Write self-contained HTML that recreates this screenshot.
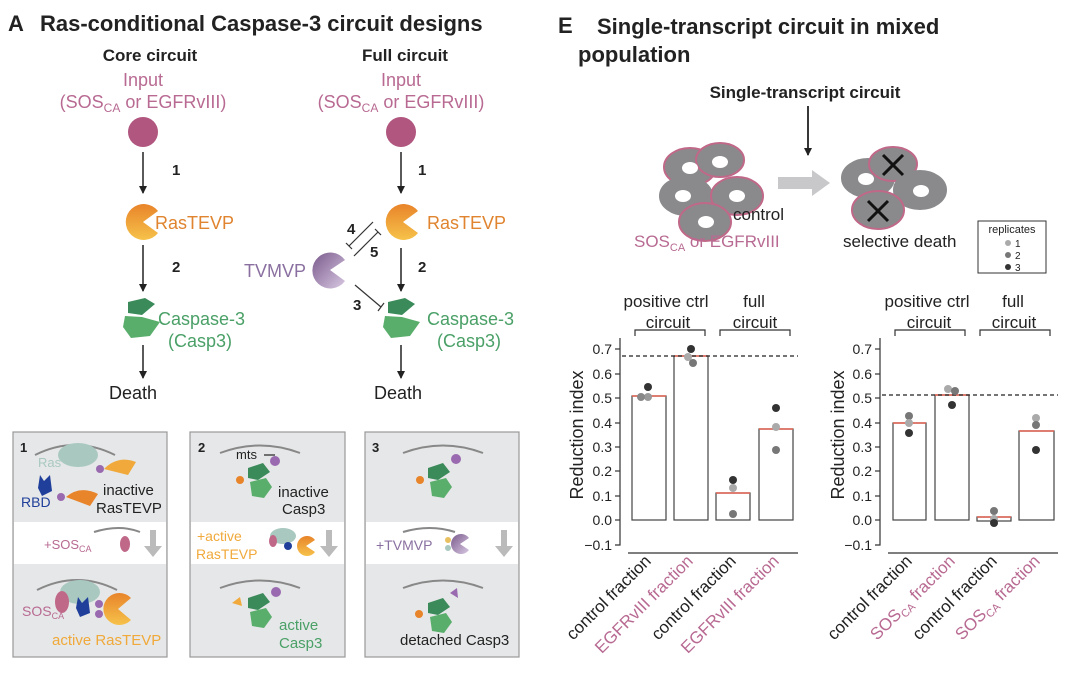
<!DOCTYPE html>
<html><head><meta charset="utf-8"><style>
html,body{margin:0;padding:0;background:#fff}
svg{display:block;font-family:"Liberation Sans",Arial,sans-serif}
</style></head><body>
<svg width="1080" height="681" viewBox="0 0 1080 681" xmlns="http://www.w3.org/2000/svg">
<defs>
<linearGradient id="og" x1="0" y1="0" x2="0" y2="1"><stop offset="0" stop-color="#e8842a"/><stop offset="1" stop-color="#f6c24a"/></linearGradient>
<linearGradient id="pg" x1="0" y1="0" x2="1" y2="1"><stop offset="0" stop-color="#7a5a8c"/><stop offset="1" stop-color="#d8c8e2"/></linearGradient>
<marker id="ah" markerWidth="8" markerHeight="8" refX="7" refY="4" orient="auto" markerUnits="userSpaceOnUse"><path d="M0,0 L8,4 L0,8 Z" fill="#222"/></marker>
</defs>

<text x="8" y="31" font-size="22" font-weight="bold" fill="#222">A</text>
<text x="40" y="31" font-size="22" font-weight="bold" fill="#222">Ras-conditional Caspase-3 circuit designs</text>

<!-- Core circuit -->
<text x="150" y="61" font-size="17" font-weight="bold" text-anchor="middle" fill="#222">Core circuit</text>
<text x="143" y="86" font-size="18" text-anchor="middle" fill="#b86a92">Input</text>
<text x="143" y="108" font-size="18" text-anchor="middle" fill="#b86a92">(SOS<tspan font-size="12" dy="4">CA</tspan><tspan dy="-4"> or EGFRvIII)</tspan></text>
<circle cx="143" cy="132" r="15" fill="#b0567f"/>
<line x1="143" y1="152" x2="143" y2="193" stroke="#222" stroke-width="1.5" marker-end="url(#ah)"/>
<text x="172" y="175" font-size="15" font-weight="bold" fill="#222">1</text>
<path d="M143,222 L158,211 A18,18 0 1 0 158,233 Z" fill="url(#og)"/>
<text x="155" y="229" font-size="18" fill="#e0842f">RasTEVP</text>
<line x1="143" y1="245" x2="143" y2="291" stroke="#222" stroke-width="1.5" marker-end="url(#ah)"/>
<text x="172" y="272" font-size="15" font-weight="bold" fill="#222">2</text>
<path d="M128,302 L145,298 L155,304 L142,315 L128,313 Z" fill="#3a8a5a"/>
<path d="M125,316 L142,317 L160,322 L150,336 L131,338 L123,327 Z" fill="#5aae6c"/>
<text x="158" y="325" font-size="18" fill="#4aa067">Caspase-3</text>
<text x="168" y="347" font-size="18" fill="#4aa067">(Casp3)</text>
<line x1="143" y1="345" x2="143" y2="378" stroke="#222" stroke-width="1.5" marker-end="url(#ah)"/>
<text x="133" y="399" font-size="18" text-anchor="middle" fill="#222">Death</text>

<!-- Full circuit -->
<text x="405" y="61" font-size="17" font-weight="bold" text-anchor="middle" fill="#222">Full circuit</text>
<text x="401" y="86" font-size="18" text-anchor="middle" fill="#b86a92">Input</text>
<text x="401" y="108" font-size="18" text-anchor="middle" fill="#b86a92">(SOS<tspan font-size="12" dy="4">CA</tspan><tspan dy="-4"> or EGFRvIII)</tspan></text>
<circle cx="401" cy="132" r="15" fill="#b0567f"/>
<line x1="401" y1="152" x2="401" y2="193" stroke="#222" stroke-width="1.5" marker-end="url(#ah)"/>
<text x="418" y="175" font-size="15" font-weight="bold" fill="#222">1</text>
<path d="M403,222 L418,211 A18,18 0 1 0 418,233 Z" fill="url(#og)"/>
<text x="427" y="229" font-size="18" fill="#e0842f">RasTEVP</text>
<line x1="401" y1="248" x2="401" y2="291" stroke="#222" stroke-width="1.5" marker-end="url(#ah)"/>
<text x="418" y="272" font-size="15" font-weight="bold" fill="#222">2</text>
<path d="M388,302 L405,298 L415,304 L402,315 L388,313 Z" fill="#3a8a5a"/>
<path d="M385,316 L402,317 L420,322 L410,336 L391,338 L383,327 Z" fill="#5aae6c"/>
<text x="427" y="325" font-size="18" fill="#4aa067">Caspase-3</text>
<text x="437" y="347" font-size="18" fill="#4aa067">(Casp3)</text>
<line x1="401" y1="345" x2="401" y2="378" stroke="#222" stroke-width="1.5" marker-end="url(#ah)"/>
<text x="398" y="399" font-size="18" text-anchor="middle" fill="#222">Death</text>
<path d="M330,270 L345,260 A18,18 0 1 0 345,281 Z" fill="url(#pg)"/>
<text x="244" y="277" font-size="18" fill="#8a70a0">TVMVP</text>
<line x1="373" y1="222" x2="349" y2="246" stroke="#333" stroke-width="1.2"/>
<line x1="346" y1="243" x2="352" y2="249" stroke="#333" stroke-width="1.2"/>
<line x1="354" y1="256" x2="378" y2="232" stroke="#333" stroke-width="1.2"/>
<line x1="375" y1="229" x2="381" y2="235" stroke="#333" stroke-width="1.2"/>
<text x="347" y="234" font-size="15" font-weight="bold" fill="#222">4</text>
<text x="370" y="257" font-size="15" font-weight="bold" fill="#222">5</text>
<line x1="355" y1="285" x2="381" y2="307" stroke="#333" stroke-width="1.2"/>
<line x1="378" y1="311" x2="384" y2="303" stroke="#333" stroke-width="1.2"/>
<text x="353" y="310" font-size="15" font-weight="bold" fill="#222">3</text>

<!-- Bottom boxes -->
<g stroke="#999" stroke-width="1.2">
<rect x="13" y="432" width="154" height="225" fill="#e6e7e8"/>
<rect x="190" y="432" width="155" height="225" fill="#e6e7e8"/>
<rect x="365" y="432" width="154" height="225" fill="#e6e7e8"/>
</g>
<rect x="14" y="522" width="152" height="42" fill="#fff"/>
<rect x="191" y="522" width="153" height="42" fill="#fff"/>
<rect x="366" y="522" width="152" height="42" fill="#fff"/>
<g fill="#bbb"><path d="M150,530 L156,530 L156,546 L162,546 L153,557 L144,546 L150,546 Z"/><path d="M326,530 L332,530 L332,546 L338,546 L329,557 L320,546 L326,546 Z"/><path d="M501,530 L507,530 L507,546 L513,546 L504,557 L495,546 L501,546 Z"/></g>
<g fill="none" stroke="#888" stroke-width="2">
<path d="M35,455 Q75,435 115,455"/><path d="M220,453 Q260,438 300,453"/><path d="M403,453 Q443,438 483,453"/>
<path d="M94,532 Q120,524 140,532"/><path d="M403,532 Q430,524 455,532"/>
<path d="M37,590 Q77,570 117,590"/><path d="M220,588 Q260,573 300,588"/><path d="M403,588 Q443,573 483,588"/>
</g>
<text x="20" y="452" font-size="13" font-weight="bold" fill="#222">1</text>
<text x="198" y="452" font-size="13" font-weight="bold" fill="#222">2</text>
<text x="372" y="452" font-size="13" font-weight="bold" fill="#222">3</text>
<ellipse cx="78" cy="455" rx="20" ry="12" fill="#a9c9c0"/>
<circle cx="100" cy="469" r="4" fill="#9a6ab0"/>
<path d="M104,469 Q118,455 136,462 L128,475 Z" fill="#f0a93a"/>
<text x="38" y="467" font-size="13" fill="#a9c9c0">Ras</text>
<path d="M40,475 L44,481 L50,475 L52,491 L42,496 L38,488 Z" fill="#1f3f9a"/>
<circle cx="61" cy="497" r="4" fill="#9a6ab0"/>
<path d="M66,497 Q80,485 98,494 L90,506 Z" fill="#e8842a"/>
<text x="21" y="507" font-size="14" fill="#1f3f9a">RBD</text>
<text x="103" y="495" font-size="15" fill="#222">inactive</text>
<text x="96" y="513" font-size="15" fill="#222">RasTEVP</text>
<text x="44" y="549" font-size="13" fill="#b86a92">+SOS<tspan font-size="9" dy="3">CA</tspan></text>
<ellipse cx="125" cy="544" rx="5" ry="8" fill="#c06888"/>
<ellipse cx="80" cy="592" rx="20" ry="12" fill="#a9c9c0"/>
<ellipse cx="62" cy="602" rx="7" ry="11" fill="#c06888"/>
<path d="M78,597 L82,603 L88,597 L90,613 L80,617 L76,608 Z" fill="#1f3f9a"/>
<circle cx="99" cy="604" r="4" fill="#9a6ab0"/><circle cx="99" cy="614" r="4" fill="#9a6ab0"/>
<path d="M118,609 L131,598 A16,16 0 1 0 131,620 Z" fill="url(#og)"/>
<text x="22" y="616" font-size="14" fill="#b86a92">SOS<tspan font-size="9" dy="3">CA</tspan></text>
<text x="52" y="645" font-size="15" fill="#f0a93a">active RasTEVP</text>
<text x="236" y="459" font-size="13" fill="#222">mts</text>
<line x1="264" y1="455" x2="275" y2="455" stroke="#222" stroke-width="1.2"/>
<circle cx="275" cy="461" r="5" fill="#9a6ab0"/>
<path d="M248,468 L263,463 L270,472 L258,480 L248,478 Z" fill="#3a8a5a"/>
<path d="M250,482 L266,478 L272,487 L264,498 L252,496 Z" fill="#5aae6c"/>
<circle cx="240" cy="480" r="4" fill="#e8842a"/>
<text x="278" y="497" font-size="15" fill="#222">inactive</text>
<text x="282" y="514" font-size="15" fill="#222">Casp3</text>
<text x="197" y="541" font-size="14" fill="#f0a93a">+active</text>
<text x="196" y="559" font-size="14" fill="#f0a93a">RasTEVP</text>
<ellipse cx="283" cy="536" rx="13" ry="8" fill="#a9c9c0"/><ellipse cx="273" cy="541" rx="4" ry="6" fill="#c06888"/>
<circle cx="288" cy="546" r="4" fill="#1f3f9a"/>
<path d="M306,546 L315,540 A10,10 0 1 0 315,552 Z" fill="url(#og)"/>
<circle cx="276" cy="592" r="5" fill="#9a6ab0"/>
<path d="M248,598 L263,593 L270,602 L258,610 L248,608 Z" fill="#3a8a5a"/>
<path d="M250,612 L266,608 L272,617 L264,628 L252,626 Z" fill="#5aae6c"/>
<path d="M232,603 L240,597 L242,606 Z" fill="#f0a93a"/>
<text x="279" y="630" font-size="15" fill="#4aa067">active</text>
<text x="279" y="648" font-size="15" fill="#4aa067">Casp3</text>
<circle cx="456" cy="459" r="5" fill="#9a6ab0"/>
<path d="M428,468 L443,463 L450,472 L438,480 L428,478 Z" fill="#3a8a5a"/>
<path d="M430,482 L446,478 L452,487 L444,498 L432,496 Z" fill="#5aae6c"/>
<circle cx="420" cy="480" r="4" fill="#e8842a"/>
<text x="376" y="550" font-size="14" fill="#8a70a0">+TVMVP</text>
<path d="M460,544 L469,538 A10,10 0 1 0 469,550 Z" fill="url(#pg)"/>
<circle cx="448" cy="540" r="3" fill="#e8c060"/><circle cx="448" cy="548" r="3" fill="#a9c9c0"/>
<path d="M450,593 L457,588 L458,598 Z" fill="#9a6ab0"/>
<path d="M428,603 L443,598 L450,607 L438,615 L428,613 Z" fill="#3a8a5a"/>
<path d="M430,617 L446,613 L452,622 L444,633 L432,631 Z" fill="#5aae6c"/>
<circle cx="419" cy="614" r="4" fill="#e8842a"/>
<text x="400" y="645" font-size="15" fill="#222">detached Casp3</text>

<!-- Panel E -->
<text x="558" y="33" font-size="22" font-weight="bold" fill="#222">E</text>
<text x="597" y="34" font-size="22" font-weight="bold" fill="#222">Single-transcript circuit in mixed</text>
<text x="578" y="62" font-size="22" font-weight="bold" fill="#222">population</text>
<text x="805" y="98" font-size="17" font-weight="bold" text-anchor="middle" fill="#222">Single-transcript circuit</text>
<line x1="808" y1="106" x2="808" y2="155" stroke="#222" stroke-width="1.8" marker-end="url(#ah)"/>
<g stroke-width="2">
<ellipse cx="690" cy="167" rx="26" ry="19" fill="#8a8a8c" stroke="#c06888"/>
<ellipse cx="720" cy="160" rx="24" ry="17" fill="#8a8a8c" stroke="#c06888"/>
<ellipse cx="686" cy="196" rx="26" ry="19" fill="#8a8a8c" stroke="#8a8a8c"/>
<ellipse cx="737" cy="196" rx="26" ry="19" fill="#8a8a8c" stroke="#c06888"/>
<ellipse cx="705" cy="222" rx="26" ry="19" fill="#8a8a8c" stroke="#c06888"/>
</g>
<g fill="#fff"><ellipse cx="690" cy="168" rx="8" ry="6"/><ellipse cx="720" cy="162" rx="8" ry="6"/><ellipse cx="683" cy="196" rx="8" ry="6"/><ellipse cx="737" cy="196" rx="8" ry="6"/><ellipse cx="706" cy="222" rx="8" ry="6"/></g>
<path d="M778,177 L812,177 L812,170 L830,183 L812,196 L812,189 L778,189 Z" fill="#c8c8ca"/>
<g stroke-width="2">
<ellipse cx="868" cy="178" rx="26" ry="19" fill="#8a8a8c" stroke="#8a8a8c"/>
<ellipse cx="893" cy="164" rx="24" ry="17" fill="#8a8a8c" stroke="#c06888"/>
<ellipse cx="920" cy="190" rx="26" ry="19" fill="#8a8a8c" stroke="#8a8a8c"/>
<ellipse cx="878" cy="210" rx="26" ry="19" fill="#8a8a8c" stroke="#c06888"/>
</g>
<g fill="#fff"><ellipse cx="866" cy="179" rx="8" ry="6"/><ellipse cx="921" cy="191" rx="8" ry="6"/></g>
<g stroke="#111" stroke-width="3"><line x1="883" y1="155" x2="903" y2="175"/><line x1="903" y1="155" x2="883" y2="175"/><line x1="868" y1="201" x2="888" y2="221"/><line x1="888" y1="201" x2="868" y2="221"/></g>
<text x="733" y="220" font-size="17" fill="#222">control</text>
<text x="634" y="247" font-size="17" fill="#b86a92">SOS<tspan font-size="11" dy="4">CA</tspan><tspan dy="-4"> or EGFRvIII</tspan></text>
<text x="843" y="247" font-size="17" fill="#222">selective death</text>
<rect x="978" y="221" width="68" height="52" fill="#fff" stroke="#333" stroke-width="1"/>
<text x="1012" y="233" font-size="11" text-anchor="middle" fill="#222">replicates</text>
<circle cx="1008" cy="243" r="3" fill="#aaa"/><text x="1015" y="247" font-size="10" fill="#222">1</text>
<circle cx="1008" cy="255" r="3" fill="#777"/><text x="1015" y="259" font-size="10" fill="#222">2</text>
<circle cx="1008" cy="267" r="3" fill="#333"/><text x="1015" y="271" font-size="10" fill="#222">3</text>

<g font-size="17" fill="#222">
<text x="666" y="307" text-anchor="middle">positive ctrl</text>
<text x="668" y="328" text-anchor="middle">circuit</text>
<text x="754" y="307" text-anchor="middle">full</text>
<text x="755" y="328" text-anchor="middle">circuit</text>
<text x="927" y="307" text-anchor="middle">positive ctrl</text>
<text x="929" y="328" text-anchor="middle">circuit</text>
<text x="1013" y="307" text-anchor="middle">full</text>
<text x="1014" y="328" text-anchor="middle">circuit</text>
</g>
<g fill="none" stroke="#333" stroke-width="1.2">
<path d="M635,336 V330 H705 V336"/><path d="M720,336 V330 H790 V336"/>
<path d="M895,336 V330 H965 V336"/><path d="M980,336 V330 H1050 V336"/>
<path d="M620,338 V545 H615"/><path d="M880,338 V545 H875"/>
<line x1="628" y1="553" x2="798" y2="553"/><line x1="888" y1="553" x2="1058" y2="553"/>
</g>
<g stroke="#333" stroke-width="1.2">
<line x1="615" y1="349" x2="620" y2="349"/><line x1="615" y1="374" x2="620" y2="374"/><line x1="615" y1="398" x2="620" y2="398"/><line x1="615" y1="423" x2="620" y2="423"/><line x1="615" y1="447" x2="620" y2="447"/><line x1="615" y1="471" x2="620" y2="471"/><line x1="615" y1="496" x2="620" y2="496"/><line x1="615" y1="520" x2="620" y2="520"/>
<line x1="875" y1="349" x2="880" y2="349"/><line x1="875" y1="374" x2="880" y2="374"/><line x1="875" y1="398" x2="880" y2="398"/><line x1="875" y1="423" x2="880" y2="423"/><line x1="875" y1="447" x2="880" y2="447"/><line x1="875" y1="471" x2="880" y2="471"/><line x1="875" y1="496" x2="880" y2="496"/><line x1="875" y1="520" x2="880" y2="520"/>
</g>
<g font-size="14" fill="#222" text-anchor="end">
<text x="612" y="354">0.7</text><text x="612" y="379">0.6</text><text x="612" y="403">0.5</text><text x="612" y="428">0.4</text><text x="612" y="452">0.3</text><text x="612" y="476">0.2</text><text x="612" y="501">0.1</text><text x="612" y="525">0.0</text><text x="612" y="550">−0.1</text>
<text x="872" y="354">0.7</text><text x="872" y="379">0.6</text><text x="872" y="403">0.5</text><text x="872" y="428">0.4</text><text x="872" y="452">0.3</text><text x="872" y="476">0.2</text><text x="872" y="501">0.1</text><text x="872" y="525">0.0</text><text x="872" y="550">−0.1</text>
</g>
<text transform="translate(583,435) rotate(-90)" font-size="18" text-anchor="middle" fill="#222">Reduction index</text>
<text transform="translate(844,435) rotate(-90)" font-size="18" text-anchor="middle" fill="#222">Reduction index</text>
<g fill="#fff" stroke="#444" stroke-width="1.2">
<rect x="632" y="396" width="34" height="124"/><rect x="674" y="356" width="34" height="164"/><rect x="716" y="493" width="34" height="27"/><rect x="759" y="429" width="34" height="91"/>
<rect x="893" y="423" width="33" height="97"/><rect x="935" y="395" width="34" height="125"/><rect x="977" y="517" width="34" height="4"/><rect x="1019" y="431" width="35" height="89"/>
</g>
<g stroke="#e06050" stroke-width="1.5">
<line x1="632" y1="396" x2="666" y2="396"/><line x1="674" y1="356" x2="708" y2="356"/><line x1="716" y1="493" x2="750" y2="493"/><line x1="759" y1="429" x2="793" y2="429"/>
<line x1="893" y1="423" x2="926" y2="423"/><line x1="935" y1="395" x2="969" y2="395"/><line x1="977" y1="517" x2="1011" y2="517"/><line x1="1019" y1="431" x2="1054" y2="431"/>
</g>
<g stroke="#222" stroke-width="1.2" stroke-dasharray="4,3">
<line x1="622" y1="356" x2="798" y2="356"/><line x1="882" y1="395" x2="1058" y2="395"/>
</g>
<g>
<circle cx="648" cy="397" r="4" fill="#999"/><circle cx="648" cy="387" r="4" fill="#333"/><circle cx="641" cy="397" r="4" fill="#888"/>
<circle cx="691" cy="349" r="4" fill="#333"/><circle cx="688" cy="357" r="4" fill="#aaa"/><circle cx="693" cy="363" r="4" fill="#777"/>
<circle cx="733" cy="480" r="4" fill="#333"/><circle cx="733" cy="488" r="4" fill="#aaa"/><circle cx="733" cy="514" r="4" fill="#777"/>
<circle cx="776" cy="408" r="4" fill="#333"/><circle cx="776" cy="427" r="4" fill="#aaa"/><circle cx="776" cy="450" r="4" fill="#777"/>
<circle cx="909" cy="416" r="4" fill="#777"/><circle cx="909" cy="423" r="4" fill="#aaa"/><circle cx="909" cy="433" r="4" fill="#333"/>
<circle cx="948" cy="389" r="4" fill="#aaa"/><circle cx="955" cy="391" r="4" fill="#777"/><circle cx="952" cy="405" r="4" fill="#333"/>
<circle cx="994" cy="511" r="4" fill="#777"/><circle cx="994" cy="519" r="4" fill="#aaa"/><circle cx="994" cy="523" r="4" fill="#333"/>
<circle cx="1036" cy="418" r="4" fill="#aaa"/><circle cx="1036" cy="425" r="4" fill="#777"/><circle cx="1036" cy="450" r="4" fill="#333"/>
</g>
<g font-size="17" text-anchor="end">
<text transform="translate(652,562) rotate(-45)" fill="#222">control fraction</text>
<text transform="translate(694,562) rotate(-45)" fill="#b86a92">EGFRvIII fraction</text>
<text transform="translate(737,562) rotate(-45)" fill="#222">control fraction</text>
<text transform="translate(780,562) rotate(-45)" fill="#b86a92">EGFRvIII fraction</text>
<text transform="translate(913,562) rotate(-45)" fill="#222">control fraction</text>
<text transform="translate(956,562) rotate(-45)" fill="#b86a92">SOS<tspan font-size="11" dy="4">CA</tspan><tspan dy="-4"> fraction</tspan></text>
<text transform="translate(998,562) rotate(-45)" fill="#222">control fraction</text>
<text transform="translate(1041,562) rotate(-45)" fill="#b86a92">SOS<tspan font-size="11" dy="4">CA</tspan><tspan dy="-4"> fraction</tspan></text>
</g>
</svg>
</body></html>
